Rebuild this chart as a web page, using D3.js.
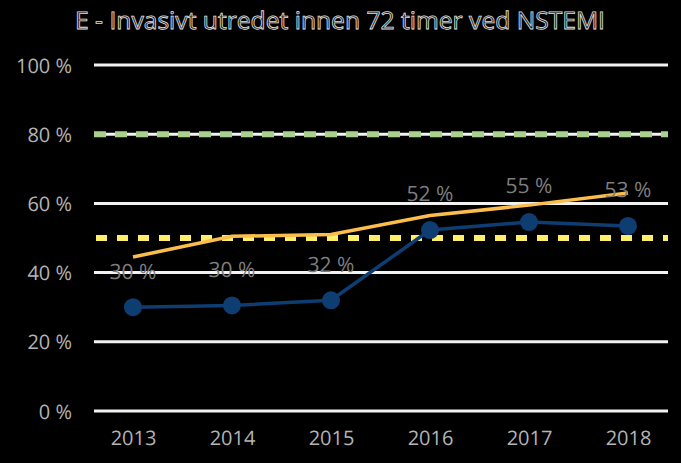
<!DOCTYPE html>
<html><head><meta charset="utf-8">
<script src="https://cdn.jsdelivr.net/npm/d3@7"></script>
<style>html,body{margin:0;padding:0;background:#000;}svg{display:block;}</style>
</head><body>
<script>
const years = ["2013","2014","2015","2016","2017","2018"];
const valuesHF = [30, 30.5, 32, 52.3, 54.6, 53.5];
const labelsHF = ["30 %","30 %","32 %","52 %","55 %","53 %"];
const valuesNational = [44.5, 50.5, 51, 56.5, 59.5, 63];
const yTicks = [0, 20, 40, 60, 80, 100];
const targetHigh = 80;
const targetLow = 50;
const title = "E - Invasivt utredet innen 72 timer ved NSTEMI";

const W = 681, H = 463;
const svg = d3.select("body").append("svg").attr("width", W).attr("height", H)
  .attr("text-rendering", "geometricPrecision");
svg.append("rect").attr("width", W).attr("height", H).attr("fill", "#000");

const x0 = 94, x1 = 668;
const x = d3.scalePoint().domain(years).range([133, 628]);
const y = d3.scaleLinear().domain([0, 100]).range([411, 65]);
const font = "'Open Sans', 'Noto Sans', sans-serif";

svg.append("text").attr("x", 340).attr("y", 29).attr("text-anchor", "middle")
  .attr("font-family", font).attr("font-size", 24).attr("textLength", 530)
  .attr("lengthAdjust", "spacingAndGlyphs")
  .attr("fill", "#111").attr("stroke", "#e0e0e0").attr("stroke-width", 0.8)
  .text(title);

// gridlines
svg.append("g").selectAll("line").data(yTicks).join("line")
  .attr("x1", x0).attr("x2", x1).attr("y1", d => y(d)).attr("y2", d => y(d))
  .attr("stroke", "#f2f2f2").attr("stroke-width", 3);

// y axis labels
const yAxis = d3.axisLeft(y).tickValues(yTicks).tickFormat(d => d + " %").tickSize(0).tickPadding(0);
const ga = svg.append("g").attr("transform", `translate(${x0 - 22},0)`).call(yAxis);
ga.select(".domain").remove();
ga.selectAll("text").attr("font-family", font).attr("font-size", 20)
  .attr("fill", "#b4b4b4").attr("dy", "0.35em");

// x axis labels
const xAxis = d3.axisBottom(x).tickSize(0).tickPadding(0);
const gx = svg.append("g").attr("transform", `translate(0,${y(0) + 27})`).call(xAxis);
gx.select(".domain").remove();
gx.selectAll("text").attr("font-family", font).attr("font-size", 20)
  .attr("fill", "#b4b4b4").attr("dy", "0.35em");

// target lines
svg.append("line").attr("x1", x0).attr("x2", x1).attr("y1", y(targetHigh)).attr("y2", y(targetHigh))
  .attr("stroke", "#a9d18e").attr("stroke-width", 6).attr("stroke-dasharray", "12,9");
svg.append("line").attr("x1", x0 + 2).attr("x2", x1).attr("y1", y(targetLow)).attr("y2", y(targetLow))
  .attr("stroke", "#ffee6b").attr("stroke-width", 6).attr("stroke-dasharray", "11,10");

// national line
const line = d3.line().x((d, i) => x(years[i])).y(d => y(d));
svg.append("path").datum(valuesNational).attr("d", line)
  .attr("fill", "none").attr("stroke", "#fbbd4c").attr("stroke-width", 3.5);

// HF line
svg.append("path").datum(valuesHF).attr("d", line)
  .attr("fill", "none").attr("stroke", "#0e3d72").attr("stroke-width", 3.5);
svg.append("g").selectAll("circle").data(valuesHF).join("circle")
  .attr("cx", (d, i) => x(years[i])).attr("cy", d => y(d)).attr("r", 9)
  .attr("fill", "#0e3d72");

// data labels
svg.append("g").selectAll("text").data(valuesHF).join("text")
  .attr("x", (d, i) => x(years[i])).attr("y", d => y(d) - 36).attr("dy", "0.35em")
  .attr("text-anchor", "middle").attr("font-family", font).attr("font-size", 21)
  .attr("fill", "#7d7d7d")
  .text((d, i) => labelsHF[i]);
</script>
</body></html>
